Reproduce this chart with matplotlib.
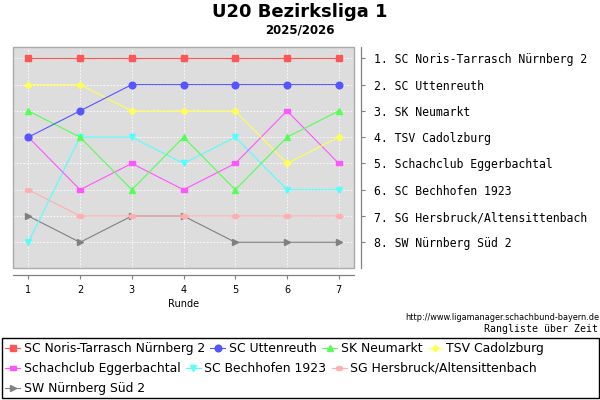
import matplotlib
matplotlib.use("Agg")
import matplotlib.pyplot as plt
from matplotlib.path import Path
from matplotlib.transforms import Affine2D
from matplotlib.patches import Rectangle
from matplotlib.lines import Line2D

# data: rank of each team per round
runden = [1, 2, 3, 4, 5, 6, 7]
teams = ["SC Noris-Tarrasch Nürnberg 2", "SC Uttenreuth", "SK Neumarkt",
         "TSV Cadolzburg", "Schachclub Eggerbachtal", "SC Bechhofen 1923",
         "SG Hersbruck/Altensittenbach", "SW Nürnberg Süd 2"]
noris = [1, 1, 1, 1, 1, 1, 1]
uttenreuth = [4, 3, 2, 2, 2, 2, 2]
neumarkt = [3, 4, 6, 4, 6, 4, 3]
cadolzburg = [2, 2, 3, 3, 3, 5, 4]
eggerbachtal = [4, 6, 5, 6, 5, 3, 5]
bechhofen = [8, 4, 4, 5, 4, 6, 6]
hersbruck = [6, 7, 7, 7, 7, 7, 7]
sw_nuernberg = [7, 8, 7, 7, 8, 8, 8]
ranks = [noris, uttenreuth, neumarkt, cadolzburg, eggerbachtal,
         bechhofen, hersbruck, sw_nuernberg]

title = "U20 Bezirksliga 1"
subtitle = "2025/2026"

colors = ["#ff5555", "#5555ff", "#55ff55", "#ffff55",
          "#ff55ff", "#55ffff", "#ffafaf", "#808080"]

hrect = Path([(-1, -0.7), (1, -0.7), (1, 0.7), (-1, 0.7), (-1, -0.7)],
             [Path.MOVETO, Path.LINETO, Path.LINETO, Path.LINETO, Path.CLOSEPOLY])
hell = Path.unit_circle().transformed(Affine2D().scale(1, 0.6))
markers = ["s", "o", "^", "D", hrect, "v", hell, ">"]
msizes = [4.8, 4.8, 4.8, 3.4, 4.8, 4.8, 4.8, 4.8]

W, H = 600, 400
fig = plt.figure(figsize=(6, 4), dpi=100)


def fx(x):
    return x / W


def fy(y):
    return 1 - y / H


ax = fig.add_axes([fx(13.3), fy(268.3), (354.3 - 13.3) / W, (268.3 - 47.3) / H])
ax.set_facecolor("#dddddd")

for i in range(len(teams)):
    ax.plot(runden, ranks[i], color=colors[i], lw=0.8, marker=markers[i],
            ms=msizes[i], mec=colors[i], mfc=colors[i], zorder=10 - i,
            clip_on=False)

ax.set_xlim(0.71, 7.3)
ax.set_ylim(8.99, 0.58)
ax.yaxis.tick_right()
ax.set_xticks(runden)
ax.set_yticks(range(1, len(teams) + 1))
final = sorted(range(len(teams)), key=lambda k: ranks[k][-1])
ax.set_yticklabels(["%d. %s" % (ranks[k][-1], teams[k]) for k in final])
ax.tick_params(axis="x", labelsize=7, length=3, color="#808080", pad=4)
ax.tick_params(axis="y", length=3, color="#808080", pad=6,
               labelsize=8.3, labelfontfamily="DejaVu Sans Mono")
ax.set_xlabel("Runde", fontsize=7, labelpad=3)
ax.grid(True, color="white", lw=0.6, ls=(0, (2, 2)))
ax.set_axisbelow(True)

for s in ["left", "top"]:
    ax.spines[s].set_visible(False)
for s in ["bottom", "right"]:
    ax.spines[s].set_position(("outward", 5))
    ax.spines[s].set_color("#808080")
    ax.spines[s].set_linewidth(0.9)
ax.add_patch(Rectangle((0, 0), 1, 1, transform=ax.transAxes, fill=False,
                       ec="#aaaaaa", lw=1.0, zorder=20, clip_on=False))

fig.text(0.5, fy(12), title, ha="center", va="center",
         fontsize=13, fontweight="bold")
fig.text(0.5, fy(30), subtitle, ha="center", va="center",
         fontsize=8.5, fontweight="bold")
fig.text(fx(599), fy(317), "http://www.ligamanager.schachbund-bayern.de",
         ha="right", va="center", fontsize=5.9)
fig.text(fx(598), fy(329), "Rangliste über Zeit", ha="right", va="center",
         family="DejaVu Sans Mono", fontsize=7.1)

# legend box, items flow like the original
fig.add_artist(Rectangle((fx(1.5), fy(398)), 597 / W, (398 - 337.7) / H,
                         transform=fig.transFigure, fill=False, ec="black",
                         lw=1.0))
renderer = fig.canvas.get_renderer()
x, row = 5.0, 0
row_y = [348.3, 368.3, 388.3]
for i in range(len(teams)):
    t = fig.text(0, 0, teams[i], fontsize=8.95, va="center")
    tw = t.get_window_extent(renderer).width
    if x + 18 + tw > 596:
        x = 5.0
        row += 1
    y = row_y[row]
    t.set_position((fx(x + 18.5), fy(y)))
    fig.add_artist(Line2D([fx(x), fx(x + 15)], [fy(y), fy(y)],
                          transform=fig.transFigure, color=colors[i], lw=0.8))
    fig.add_artist(Line2D([fx(x + 7.5)], [fy(y)], transform=fig.transFigure,
                          marker=markers[i], ms=msizes[i], color=colors[i]))
    x += 18.5 + tw + 5.5

fig.savefig("out.png", dpi=100)
